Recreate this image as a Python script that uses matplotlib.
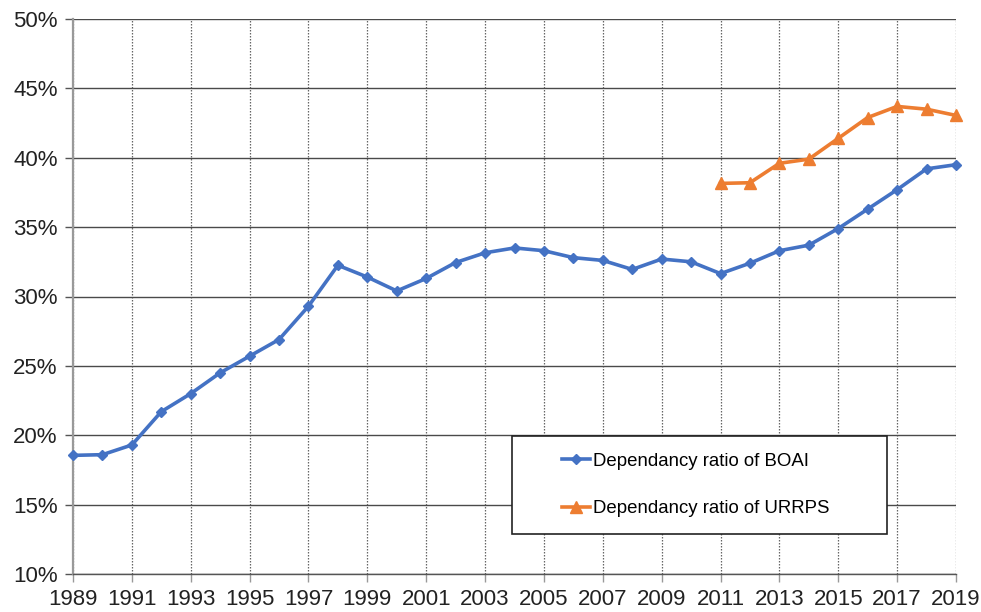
import matplotlib.pyplot as plt
from matplotlib.patches import Rectangle
from matplotlib.ticker import FuncFormatter, MultipleLocator

plt.rcParams['font.family'] = ['Liberation Sans', 'DejaVu Sans']

###================ Data =================###

years_boai = list(range(1989, 2020))
boai = [18.55, 18.6, 19.3, 21.7, 23.0, 24.5, 25.7, 26.9, 29.3, 32.25,
        31.4, 30.4, 31.3, 32.45, 33.15, 33.5, 33.3, 32.8, 32.6, 31.95,
        32.7, 32.5, 31.65, 32.4, 33.3, 33.7, 34.9, 36.3, 37.7, 39.2, 39.5]

years_urrps = list(range(2011, 2020))
urrps = [38.15, 38.2, 39.6, 39.9, 41.4, 42.9, 43.7, 43.5, 43.05]

year_ticks = list(range(1989, 2020, 2))

label_boai = "Dependancy ratio of BOAI"
label_urrps = "Dependancy ratio of URRPS"

###================ Plot =================###

fig = plt.figure(figsize=(9.81, 6.12), dpi=100)
ax = fig.add_axes([73 / 981, 1 - 574 / 612, 883 / 981, 555 / 612])

ax.plot(years_boai, boai, color='#4472C4', lw=2.6, marker='D', ms=5.5,
        label=label_boai, zorder=3, clip_on=False)
ax.plot(years_urrps, urrps, color='#ED7D31', lw=2.6, marker='^', ms=8,
        label=label_urrps, zorder=3, clip_on=False)

ax.set_xlim(1989, 2019)
ax.set_ylim(10, 50)
ax.set_xticks(year_ticks)
ax.yaxis.set_major_locator(MultipleLocator(5))
ax.yaxis.set_major_formatter(FuncFormatter(lambda v, p: f"{v:.0f}%"))

ax.grid(axis='y', color='#4a4a4a', lw=1.0, ls='-')
ax.grid(axis='x', color='#666666', lw=0.9, ls=(0, (1.2, 1.2)))
ax.set_axisbelow(True)

for side in ['top', 'right']:
    ax.spines[side].set_visible(False)
ax.spines['left'].set_color('#999999')
ax.spines['left'].set_linewidth(1.6)
ax.spines['bottom'].set_color('#555555')
ax.spines['bottom'].set_linewidth(1.0)

ax.tick_params(axis='both', labelsize=16, colors='#222222', length=6,
               width=1, direction='out')
ax.tick_params(axis='y', color='#555555', pad=5)
ax.tick_params(axis='x', color='#999999', pad=5)

# legend box
box = Rectangle((0.497, 0.072), 0.425, 0.177, transform=ax.transAxes,
                facecolor='white', edgecolor='#222222', lw=1.2, zorder=4)
ax.add_patch(box)
ax.legend(loc='center', bbox_to_anchor=(0.497 + 0.208, 0.072 + 0.0885),
          frameon=False, fontsize=13.4, labelspacing=1.65,
          handlelength=1.5, handletextpad=0.15).set_zorder(5)

fig.savefig('out.png', dpi=100)
